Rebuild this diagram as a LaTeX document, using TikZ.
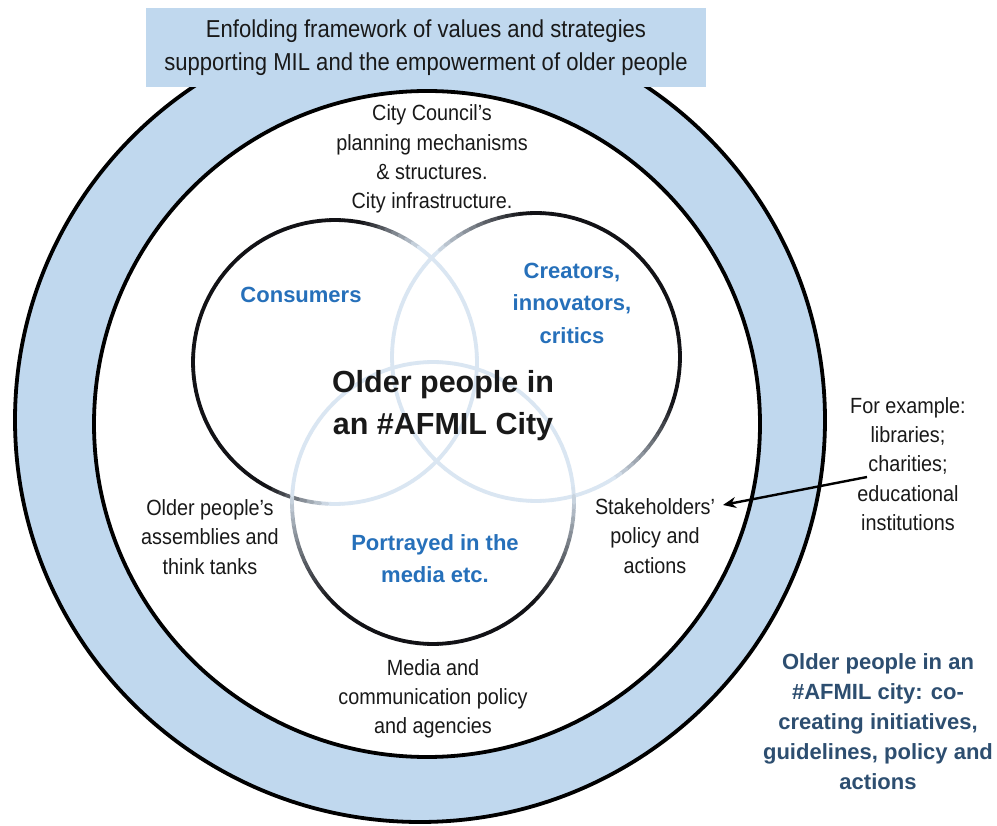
\documentclass[tikz,border=0pt]{standalone}
\usepackage{fontspec}
\setmainfont{Liberation Sans}
\newfontfamily\narrowf[FakeStretch=0.9]{Liberation Sans}
\usetikzlibrary{arrows.meta}
\definecolor{bandblue}{RGB}{192,216,238}
\definecolor{vlight}{RGB}{218,230,242}
\definecolor{vdark}{RGB}{18,18,22}
\definecolor{lblue}{RGB}{38,112,186}
\definecolor{slate}{RGB}{45,78,112}
\definecolor{txt}{RGB}{25,25,25}
\newcommand{\setfs}[2]{\fontsize{#1}{#2}\selectfont}
\begin{document}
\begin{tikzpicture}[x=1pt,y=-1pt,
  ring/.style={draw=black, line width=3.8pt},
  venn/.style={line width=3.8pt, line cap=round},
  lbl/.style={font={\narrowf\setfs{22}{29.3}}, text=txt, align=center, inner sep=0pt},
  blu/.style={font={\bfseries\setfs{22}{32.5}}, text=lblue, align=center, inner sep=0pt},
  arr/.style={draw=black, line width=2.4pt, -{Stealth[length=13pt,width=11pt]}}]
\useasboundingbox (0,0) rectangle (997,826);
\fill[white] (0,0) rectangle (997,826);
% blue band between the two rings
\fill[bandblue, even odd rule] (420,420) ellipse[x radius=405pt, y radius=402pt]
                               (427,424) circle[radius=333pt];
\draw[ring] (420,420) ellipse[x radius=405pt, y radius=402pt];
\draw[ring] (427,424) circle[radius=333pt];
% banner
\node[fill=bandblue, minimum width=560pt, minimum height=79pt, inner sep=0pt,
      align=center, font={\narrowf\setfs{24.5}{33}}, text=txt] (banner) at (426,47.5)
  {Enfolding framework of values and strategies\\supporting MIL and the empowerment of older people};
% Venn circles with fading outline
\foreach \cx/\cy/\rr/\ph/\ta/\tb in {335/362/142/200/-0.3/0.15, 536/357/144/322/-0.1/0.55, 433/503/141/90/-0.1/0.7}{
  \foreach \ang in {0,3,...,357}{
    \pgfmathsetmacro\tv{cos(\ang+1.5-\ph)}
    \pgfmathtruncatemacro\dk{100*max(0,min(1,(\tv-\ta)/(\tb-\ta)))}
    \draw[venn, draw=vdark!\dk!vlight] ({\cx+\rr*cos(\ang)},{\cy+\rr*sin(\ang)}) -- ({\cx+\rr*cos(\ang+3)},{\cy+\rr*sin(\ang+3)});
  }
}
% texts
\node[lbl] (council) at (432,159) {City Council’s\\planning mechanisms\\\& structures.\\City infrastructure.};
\node[blu] (consumers) at (301,295) {Consumers};
\node[blu] (creators) at (572,303) {Creators,\\innovators,\\critics};
\node[font={\bfseries\setfs{30.5}{42}}, text=txt, align=center, inner sep=0pt] (centre) at (443,406) {Older people in\\an \#AFMIL City};
\node[blu, font={\bfseries\setfs{22}{32}}] (portrayed) at (435,559) {Portrayed in the\\media etc.};
\node[lbl] (assemblies) at (210,537) {Older people’s\\assemblies and\\think tanks};
\node[lbl] (stake) at (655,536) {Stakeholders’\\policy and\\actions};
\node[lbl] (media) at (433,699) {Media and\\communication policy\\and agencies};
\node[lbl] (forex) at (908,464) {For example:\\libraries;\\charities;\\educational\\institutions};
\node[font={\bfseries\setfs{22}{30}}, text=slate, align=center, inner sep=0pt] (cocreate) at (878,722)
  {Older people in an\\\#AFMIL city: co-\\creating initiatives,\\guidelines, policy and\\actions};
% arrow
\coordinate (tail) at (867,477);
\coordinate (tip) at (723,505);
\draw[arr] (tail) -- (tip);
\end{tikzpicture}
\end{document}
